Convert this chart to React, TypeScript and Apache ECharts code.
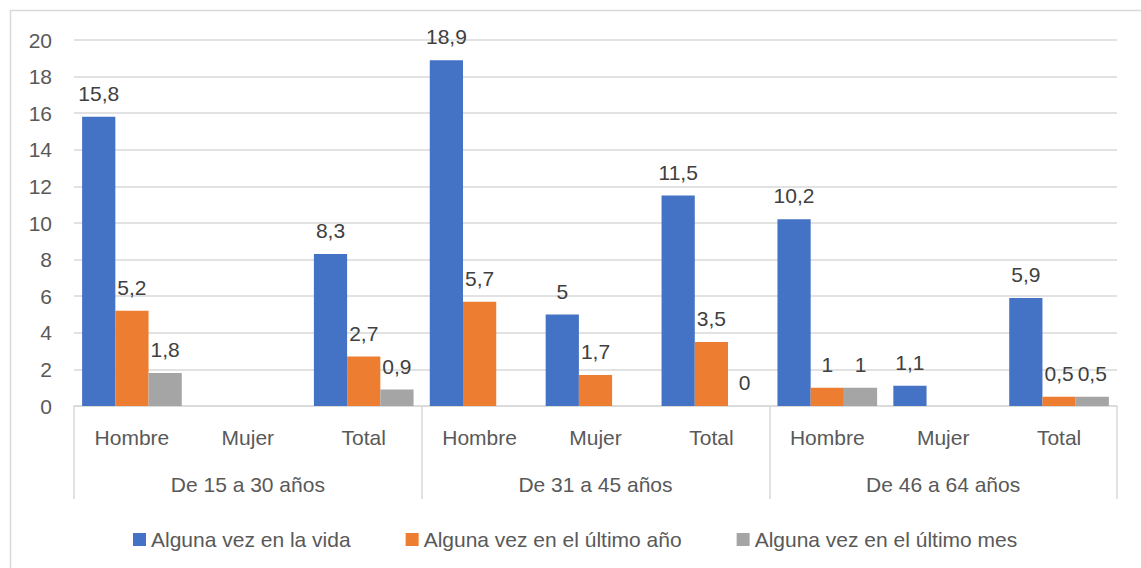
import React, { useEffect, useRef } from "react";
import * as echarts from "echarts";

const groups = ["De 15 a 30 años", "De 31 a 45 años", "De 46 a 64 años"];
const subcats = ["Hombre", "Mujer", "Total"];
const seriesNames = [
  "Alguna vez en la vida",
  "Alguna vez en el último año",
  "Alguna vez en el último mes",
];
const vida: (number | null)[] = [15.8, null, 8.3, 18.9, 5, 11.5, 10.2, 1.1, 5.9];
const anio: (number | null)[] = [5.2, null, 2.7, 5.7, 1.7, 3.5, 1, null, 0.5];
const mes: (number | null)[] = [1.8, null, 0.9, null, null, 0, 1, null, 0.5];
const yTicks = { min: 0, max: 20, interval: 2 };
const colors = ["#4472C4", "#ED7D31", "#A5A5A5"];

const categoryKeys: string[] = [];
groups.forEach((g) => subcats.forEach((s) => categoryKeys.push(g + "|" + s)));

const FONT = "'Liberation Sans', Arial, sans-serif";

export default function App() {
  const ref = useRef<HTMLDivElement>(null);
  useEffect(() => {
    if (!ref.current) return;
    const chart = echarts.init(ref.current, null, { renderer: "svg" });
    const mkSeries = (name: string, data: (number | null)[], color: string) => ({
      name,
      type: "bar",
      xAxisIndex: 0,
      data,
      barGap: "0%",
      barCategoryGap: "14%",
      itemStyle: { color },
      label: {
        show: true,
        position: "top",
        distance: 13,
        color: "#404040",
        fontSize: 21,
        fontFamily: FONT,
        formatter: (p: any) => String(p.value).replace(".", ","),
      },
    });
    chart.setOption({
      animation: false,
      textStyle: { fontFamily: FONT },
      color: colors,
      grid: { left: 74, right: 24, top: 40, bottom: 162, containLabel: false },
      graphic: [
        {
          type: "polyline",
          shape: { points: [[10.5, 568], [10.5, 10.5], [1141, 10.5]] },
          style: { stroke: "#d9d9d9", lineWidth: 1.5, fill: null },
        },
      ],
      legend: {
        left: 133,
        top: 529,
        padding: 0,
        itemWidth: 13,
        itemHeight: 13,
        itemGap: 55,
        icon: "rect",
        textStyle: { color: "#595959", fontSize: 21, fontFamily: FONT },
        data: seriesNames,
      },
      xAxis: [
        {
          type: "category",
          data: categoryKeys,
          position: "bottom",
          axisLine: { show: false },
          axisTick: { show: false },
          axisLabel: {
            interval: 0,
            margin: 21,
            color: "#595959",
            fontSize: 21,
            fontFamily: FONT,
            formatter: (v: string) => v.split("|")[1],
          },
        },
        {
          type: "category",
          data: groups,
          position: "bottom",
          boundaryGap: true,
          axisLine: { show: true, lineStyle: { color: "#d9d9d9", width: 1.5 } },
          axisTick: {
            show: true,
            interval: 0,
            length: 93,
            lineStyle: { color: "#d9d9d9", width: 1.5 },
          },
          axisLabel: {
            interval: 0,
            margin: 68,
            color: "#595959",
            fontSize: 21,
            fontFamily: FONT,
          },
        },
      ],
      yAxis: {
        type: "value",
        min: yTicks.min,
        max: yTicks.max,
        interval: yTicks.interval,
        axisLine: { show: false },
        axisTick: { show: false },
        splitLine: { lineStyle: { color: "#d9d9d9", width: 1.5 } },
        axisLabel: { margin: 22, color: "#595959", fontSize: 21, fontFamily: FONT },
      },
      series: [
        mkSeries(seriesNames[0], vida, colors[0]),
        mkSeries(seriesNames[1], anio, colors[1]),
        mkSeries(seriesNames[2], mes, colors[2]),
      ],
    });
    return () => chart.dispose();
  }, []);
  return (
    <div
      ref={ref}
      style={{ position: "absolute", left: 0, top: 0, width: 1141, height: 568, background: "#fff" }}
    />
  );
}
